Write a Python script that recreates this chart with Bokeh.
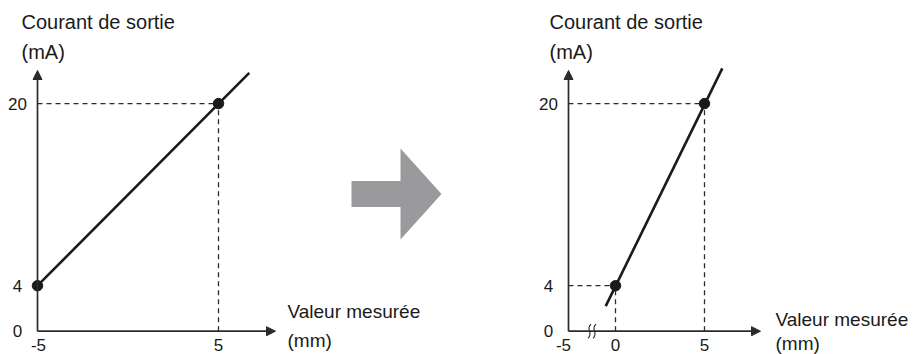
from bokeh.plotting import figure
from bokeh.models import Arrow, NormalHead, Range1d
from bokeh.core.properties import value
from bokeh.embed import file_html
from bokeh.resources import INLINE

# ---------------- data ----------------
y_title = ["Courant de sortie", "(mA)"]
x_title = ["Valeur mesurée", "(mm)"]
y_ticks = [0, 4, 20]
y_tick_labels = ["0", "4", "20"]

left_x_ticks = [-5, 5]
left_x_tick_labels = ["-5", "5"]
left_points_x = [-5, 5]
left_points_y = [4, 20]
left_line_x = [-5, 6.7]
left_line_y = [4, 22.7]

right_x_ticks = [-5, 0, 5]
right_x_tick_labels = ["-5", "0", "5"]
right_points_x = [0, 5]
right_points_y = [4, 20]
right_line_x = [-0.55, 6.0]
right_line_y = [2.2, 23.1]

# ---------------- layout / style ----------------
FONT = value("Liberation Sans")
TXT = "#1a1a1a"
AX = "#2b2b2b"
W, H = 924, 354

SY = 11.38          # px per mA
Y0 = 330.7          # canvas y of 0 mA
SXL, XL0 = 18.1, 37     # left: px per mm, canvas x of -5 mm
SXR, XR0 = 17.8, 615    # right: px per mm, canvas x of 0 mm
R_AXIS = 568            # right: canvas x of the (broken) y axis

ys = -(H - Y0) / SY
xls = -5 - XL0 / SXL
xrs = -XR0 / SXR

p = figure(width=W, height=H,
           x_range=Range1d(xls, xls + W / SXL), y_range=Range1d(ys, ys + H / SY),
           output_backend="svg", toolbar_location=None,
           x_axis_location=None, y_axis_location=None,
           min_border=0, outline_line_color=None)
p.grid.visible = False
p.extra_x_ranges = {"r": Range1d(xrs, xrs + W / SXR), "px": Range1d(0, W)}
p.extra_y_ranges = {"py": Range1d(H, 0)}


def draw_panel(xr, sx, axis_x, axis_len_px, ticks_pos, ticks_labels, tick_nudge, pts_x, pts_y,
               line_x, line_y, dashed_h, dashed_v, title_px, xtitle_px, xtitle_mid,
               brk=None):
    kw = {} if xr is None else {"x_range_name": xr}
    y_top = (Y0 - 70) / SY
    x_end = axis_x + axis_len_px / sx

    for (xa, xb, yv) in dashed_h:
        p.line([xa, xb], [yv, yv], line_color=AX, line_width=1.3, line_dash="5 4", **kw)
    for (xv, ya, yb) in dashed_v:
        p.line([xv, xv], [ya, yb], line_color=AX, line_width=1.3, line_dash="5 4", **kw)

    for (xe, ye) in ((axis_x, y_top), (x_end, 0)):
        p.add_layout(Arrow(x_start=axis_x, y_start=0, x_end=xe, y_end=ye,
                           line_color=AX, line_width=1.7,
                           end=NormalHead(size=9, fill_color=AX, line_color=AX), **kw))

    if brk is not None:
        dx, dy = 1.0 / sx, 1.0 / SY
        p.quad(left=brk - 2.5 * dx, right=brk + 2.5 * dx, bottom=-2 * dy, top=2 * dy,
               fill_color="white", line_color=None, **kw)
        for d in (-2.5, 2.5):
            p.bezier(x0=brk + (d + 1.5) * dx, y0=7 * dy, x1=brk + (d - 1.5) * dx, y1=-7 * dy,
                     cx0=brk + (d - 4.5) * dx, cy0=2.5 * dy, cx1=brk + (d + 4.5) * dx, cy1=-2.5 * dy,
                     line_color=AX, line_width=1.1, **kw)

    p.line(line_x, line_y, line_color="#1a1a1a", line_width=2.6, **kw)
    p.scatter(pts_x, pts_y, size=10.5, fill_color="#1a1a1a", line_color="#1a1a1a", **kw)

    p.text(x=[axis_x] * len(y_ticks), y=y_ticks, text=y_tick_labels,
           x_offset=-20, text_align="center", text_baseline="middle",
           text_font=FONT, text_font_size="17px", text_color=TXT, **kw)
    p.text(x=ticks_pos, y=[0] * len(ticks_pos), text=ticks_labels,
           x_offset=tick_nudge, y_offset=14, text_align="center", text_baseline="middle",
           text_font=FONT, text_font_size="17px", text_color=TXT, **kw)

    # titles (placed in canvas pixels)
    p.text(x=[title_px] * 2, y=[21, 51], text=y_title,
           text_align="left", text_baseline="middle",
           text_font=FONT, text_font_size="20px", text_color=TXT,
           x_range_name="px", y_range_name="py")
    p.text(x=[xtitle_px] * 2, y=list(xtitle_mid), text=x_title,
           text_align="left", text_baseline="middle",
           text_font=FONT, text_font_size="19px", text_color=TXT,
           x_range_name="px", y_range_name="py")


# ----- left panel -----
draw_panel(None, SXL, -5, 238, left_x_ticks, left_x_tick_labels, [1, 0],
           left_points_x, left_points_y, left_line_x, left_line_y,
           dashed_h=[(-5, left_points_x[1], left_points_y[1])],
           dashed_v=[(left_points_x[1], 0, left_points_y[1])],
           title_px=21, xtitle_px=287, xtitle_mid=(311, 340))

# ----- right panel (axis broken between -5 and 0) -----
r_axis = (R_AXIS - XR0) / SXR
r_tick_pos = [r_axis] + right_x_ticks[1:]
draw_panel("r", SXR, r_axis, 192, r_tick_pos, right_x_tick_labels, [-5, 0, 0],
           right_points_x, right_points_y, right_line_x, right_line_y,
           dashed_h=[(r_axis, right_points_x[0], right_points_y[0]),
                     (r_axis, right_points_x[1], right_points_y[1])],
           dashed_v=[(right_points_x[0], 0, right_points_y[0]),
                     (right_points_x[1], 0, right_points_y[1])],
           title_px=549, xtitle_px=775, xtitle_mid=(319, 343),
           brk=r_axis / 2)

# ----- middle gray arrow (canvas pixels) -----
cx0, cy = 351, 193.5
shaft_len, shaft_half, head_len, head_half = 49, 13, 41, 45.5
ax = [cx0, cx0 + shaft_len, cx0 + shaft_len, cx0 + shaft_len + head_len,
      cx0 + shaft_len, cx0 + shaft_len, cx0]
ay = [cy - shaft_half, cy - shaft_half, cy - head_half, cy,
      cy + head_half, cy + shaft_half, cy + shaft_half]
p.patch(ax, ay, fill_color="#9a9a9c", line_color=None,
        x_range_name="px", y_range_name="py")

open("out.html", "w").write(file_html(p, INLINE))
